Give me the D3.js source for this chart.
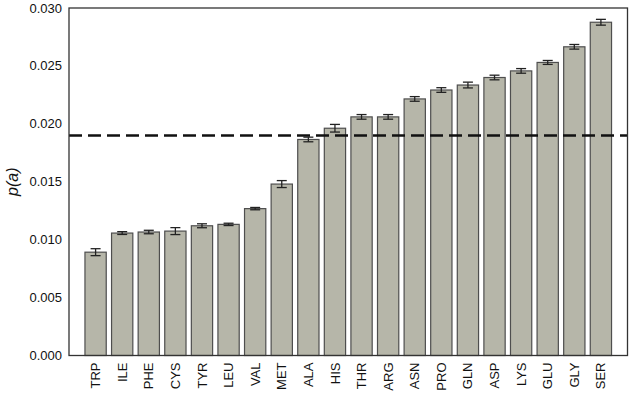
<!DOCTYPE html>
<head>
    <meta charset="utf-8">
    <title>p(a) by amino acid</title>
    <style>
        body { margin: 0; background: #fff; }
        text { font-family: Arial, "Liberation Sans", sans-serif; }
    </style>
</head>
<body>

<svg width="631" height="394"></svg>

<script src="https://d3js.org/d3.v7.min.js"></script>

<script>

    // Amino acids, sorted by frequency
    const residues = ["TRP", "ILE", "PHE", "CYS", "TYR", "LEU", "VAL", "MET", "ALA", "HIS",
                      "THR", "ARG", "ASN", "PRO", "GLN", "ASP", "LYS", "GLU", "GLY", "SER"];
    const freq = [0.00892, 0.01057, 0.01066, 0.01074, 0.01120, 0.01132, 0.01268, 0.01480, 0.01865, 0.01962,
                  0.02060, 0.02060, 0.02215, 0.02292, 0.02335, 0.02400, 0.02457, 0.02530, 0.02665, 0.02877];
    const err = [0.00030, 0.00012, 0.00015, 0.00030, 0.00017, 0.00010, 0.00010, 0.00030, 0.00020, 0.00033,
                 0.00020, 0.00020, 0.00020, 0.00020, 0.00025, 0.00020, 0.00020, 0.00017, 0.00020, 0.00025];
    const yTicks = [0, 0.005, 0.010, 0.015, 0.020, 0.025, 0.030];
    const uniform = 0.019;   // dashed reference line

    const svg = d3.select("svg");
    const margin = {top: 8, right: 3.5, bottom: 38.5, left: 69};
    const width = +svg.attr("width");
    const height = +svg.attr("height");

    const x = d3.scaleBand()
        .domain(residues)
        .range([margin.left, width - margin.right])
        .paddingInner(0.2)
        .paddingOuter(0.6);

    const y = d3.scaleLinear()
        .domain([0, 0.03])
        .range([height - margin.bottom, margin.top]);

    const data = residues.map((r, i) => ({name: r, value: freq[i], err: err[i]}));

    // bars
    svg.append("g").selectAll("rect")
        .data(data)
        .enter().append("rect")
            .attr("x", d => x(d.name))
            .attr("y", d => y(d.value))
            .attr("width", x.bandwidth())
            .attr("height", d => y(0) - y(d.value))
            .attr("fill", "#b6b6a9")
            .attr("stroke", "#4e4e4e")
            .attr("stroke-width", 1.2);

    // error bars
    const eb = svg.append("g").attr("stroke", "#222").attr("stroke-width", 1.3);
    data.forEach(d => {
        const cx = x(d.name) + x.bandwidth() / 2;
        eb.append("line")
            .attr("x1", cx).attr("x2", cx)
            .attr("y1", y(d.value - d.err)).attr("y2", y(d.value + d.err));
        [d.value - d.err, d.value + d.err].forEach(v => {
            eb.append("line")
                .attr("x1", cx - 5).attr("x2", cx + 5)
                .attr("y1", y(v)).attr("y2", y(v));
        });
    });

    // dashed line
    svg.append("line")
        .attr("x1", margin.left).attr("x2", width - margin.right)
        .attr("y1", y(uniform)).attr("y2", y(uniform))
        .attr("stroke", "#111")
        .attr("stroke-width", 2.5)
        .attr("stroke-dasharray", "13,6");

    // frame
    svg.append("rect")
        .attr("x", margin.left).attr("y", margin.top)
        .attr("width", width - margin.left - margin.right)
        .attr("height", height - margin.top - margin.bottom)
        .attr("fill", "none")
        .attr("stroke", "#333")
        .attr("stroke-width", 1.3);

    // y axis labels (no tick marks)
    svg.append("g").selectAll("text")
        .data(yTicks)
        .enter().append("text")
            .attr("x", margin.left - 7)
            .attr("y", d => y(d))
            .attr("dy", "0.35em")
            .attr("text-anchor", "end")
            .attr("font-size", 13)
            .attr("fill", "#111")
            .text(d3.format(".3f"));

    // x labels, rotated
    svg.append("g").selectAll("text")
        .data(residues)
        .enter().append("text")
            .attr("transform", d => "translate(" + (x(d) + x.bandwidth() / 2) + "," + (y(0) + 7) + ") rotate(-90)")
            .attr("dy", "0.35em")
            .attr("text-anchor", "end")
            .attr("font-size", 13)
            .attr("fill", "#111")
            .text(d => d);

    // y axis title
    svg.append("text")
        .attr("transform", "translate(18," + ((margin.top + y(0)) / 2) + ") rotate(-90)")
        .attr("text-anchor", "middle")
        .attr("font-family", "'Liberation Serif', 'DejaVu Serif', serif")
        .attr("font-style", "italic")
        .attr("font-size", 16)
        .attr("fill", "#111")
        .text("p(a)");

</script>

</body>
